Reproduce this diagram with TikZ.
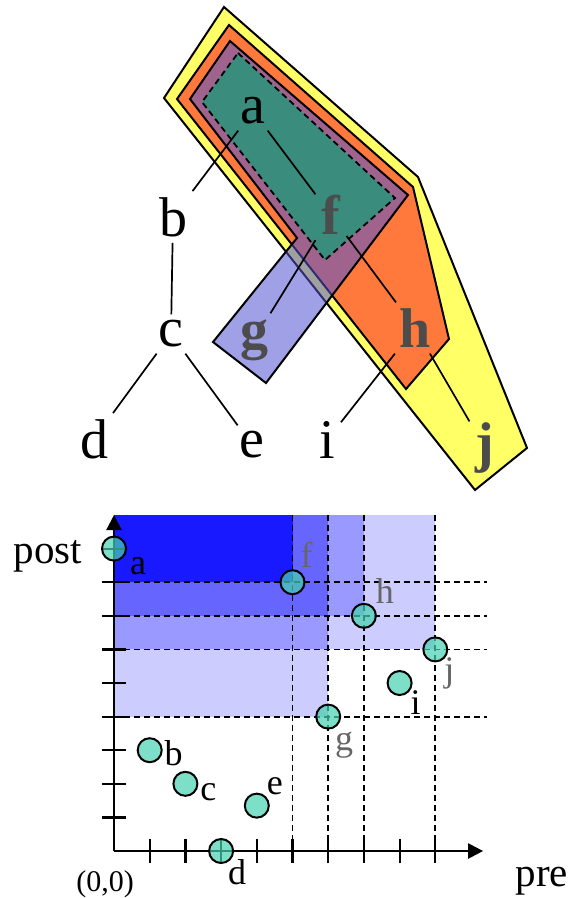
\documentclass[tikz,border=0pt]{standalone}
\usepackage{fontspec}
\setmainfont{Liberation Serif}
\usetikzlibrary{arrows.meta}

\definecolor{yelfill}{RGB}{255,255,102}
\definecolor{orgfill}{RGB}{255,120,60}
\definecolor{bluefill}{RGB}{82,82,209}
\definecolor{tealfill}{RGB}{58,140,125}
\definecolor{ptfill}{RGB}{70,210,175}

\begin{document}
\begin{tikzpicture}[x=1pt, y=-1pt,
  tlbl/.style={font=\fontsize{56}{60}\selectfont, inner sep=6pt},
  tbold/.style={font=\fontsize{56}{60}\selectfont\bfseries, text=black!70, inner sep=6pt},
  treeedge/.style={draw=black, line width=1.7pt},
  zone/.style={draw=black, line width=2pt, line join=miter},
  plbl/.style={font=\fontsize{36}{40}\selectfont, inner sep=0pt},
  pgray/.style={plbl, text=black!60},
  ppt/.style={circle, draw=black, line width=2pt, fill=ptfill, fill opacity=0.7, minimum size=24pt, inner sep=0pt},
  dashln/.style={dash pattern=on 6pt off 4pt, line width=1.8pt},
  axln/.style={line width=2.2pt}
]
\useasboundingbox (0,0) rectangle (572,898);

% nested regions of the tree
\draw[zone, fill=yelfill] (224,7) -- (418,177) -- (527,448) -- (475,490) -- (164,98) -- cycle;
\draw[zone, fill=orgfill] (229,25) -- (413,187) -- (449,339) -- (406,389) -- (177,99) -- cycle;
\draw[zone, fill=bluefill, fill opacity=0.55] (230,41) -- (408,195) -- (266,383) -- (213,342) -- (297,238) -- (190,99) -- cycle;
\draw[fill=tealfill, dashln] (238,53) -- (395,198) -- (325,260) -- (202,102) -- cycle;

% tree
\node[tlbl] (ta) at (253,111) {a};
\node[tlbl] (tb) at (173,217) {b};
\node[tlbl] (tc) at (171,334) {c};
\node[tlbl] (td) at (94,439) {d};
\node[tlbl] (te) at (252,445) {e};
\node[tbold] (tf) at (331,215) {f};
\node[tbold] (tg) at (254,340) {g};
\node[tbold] (th) at (415,328) {h};
\node[tlbl] (ti) at (327,440) {i};
\node[tbold] (tj) at (485,448) {j};
\draw[treeedge] (ta) -- (tb);
\draw[treeedge] (ta) -- (tf);
\draw[treeedge] (tb) -- (tc);
\draw[treeedge] (tc) -- (td);
\draw[treeedge] (tc) -- (te);
\draw[treeedge] (tf) -- (tg);
\draw[treeedge] (tf) -- (th);
\draw[treeedge] (th) -- (ti);
\draw[treeedge] (th) -- (tj);

% pre/post plane
\begin{scope}[shift={(114,851)}, x=35.7pt, y=33.6pt]
  \fill[blue!20] (0,6) rectangle (9,10);
  \fill[blue!20] (0,4) rectangle (6,6);
  \fill[blue!40] (0,7) rectangle (7,10);
  \fill[blue!40] (0,6) rectangle (6,7);
  \fill[blue!60] (0,7) rectangle (6,10);
  \fill[blue!90] (0,8) rectangle (5,10);
  \foreach \px in {5,6,7,9}
    \draw[dashln] (\px,0) -- (\px,10.05);
  \foreach \py in {4,6,7,8}
    \draw[dashln] (0,\py) -- (10.45,\py);
  \coordinate (orig) at (0,0);
  \coordinate (xend) at (10.34,0);
  \coordinate (yend) at (0,10);
  \draw[axln, -{Triangle[length=15pt,width=15pt]}] (orig) -- (xend);
  \draw[axln, -{Triangle[length=15pt,width=15pt]}] (orig) -- (yend);
  \foreach \k in {1,...,9} {
    \draw[axln] (\k,0) ++(0pt,-12pt) -- ++(0pt,24pt);
    \draw[axln] (0,\k) ++(-12pt,0pt) -- ++(24pt,0pt);
  }
  \node[ppt] (pa) at (0,9) {};
  \node[ppt] (pb) at (1,3) {};
  \node[ppt] (pc) at (2,2) {};
  \node[ppt] (pd) at (3,0) {};
  \node[ppt] (pe) at (4,1.35) {};
  \node[ppt] (pf) at (5,8) {};
  \node[ppt] (pg) at (6,4) {};
  \node[ppt] (ph) at (7,7) {};
  \node[ppt] (pi) at (8,5) {};
  \node[ppt] (pj) at (9,6) {};
\end{scope}
\node[plbl] (la) at ([shift={(24pt,-18pt)}]pa) {a};
\node[plbl] (lb) at ([shift={(24pt,-3pt)}]pb) {b};
\node[plbl] (lc) at ([shift={(23pt,-8pt)}]pc) {c};
\node[plbl] (ld) at ([shift={(16pt,-21pt)}]pd) {d};
\node[plbl] (le) at ([shift={(18pt,19pt)}]pe) {e};
\node[pgray] (lf) at ([shift={(14pt,27pt)}]pf) {f};
\node[pgray] (lg) at ([shift={(16pt,-29pt)}]pg) {g};
\node[pgray] (lh) at ([shift={(21pt,25pt)}]ph) {h};
\node[plbl] (li) at ([shift={(16pt,-20pt)}]pi) {i};
\node[pgray] (lj) at ([shift={(14pt,-24pt)}]pj) {j};
\node[font=\fontsize{41}{44}\selectfont, anchor=base, inner sep=0pt] (lpost) at (48,563) {post};
\node[font=\fontsize{41}{44}\selectfont, anchor=base, inner sep=0pt] (lpre) at (542,886) {pre};
\node[font=\fontsize{30}{32}\selectfont, inner sep=0pt] (lorig) at (105,884) {(0,0)};
\end{tikzpicture}
\end{document}
